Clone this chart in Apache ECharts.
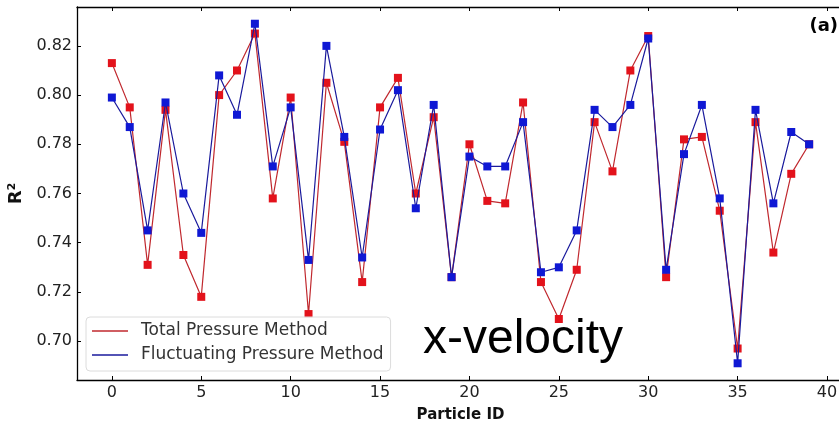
<!DOCTYPE html>
<html>
<head>
<meta charset="utf-8">
<script src="https://cdn.jsdelivr.net/npm/echarts@6/dist/echarts.min.js"></script>
<style>html,body{margin:0;padding:0;background:#fff;}#c{width:839px;height:425px;}</style>
</head>
<body>
<div id="c"></div>
<script>
var particleIds = [0,1,2,3,4,5,6,7,8,9,10,11,12,13,14,15,16,17,18,19,20,21,22,23,24,25,26,27,28,29,30,31,32,33,34,35,36,37,38,39];
var totalPressure = [0.813,0.795,0.731,0.794,0.735,0.718,0.800,0.810,0.825,0.758,
                     0.799,0.711,0.805,0.781,0.724,0.795,0.807,0.760,0.791,0.726,
                     0.780,0.757,0.756,0.797,0.724,0.709,0.729,0.789,0.769,0.810,
                     0.824,0.726,0.782,0.783,0.753,0.697,0.789,0.736,0.768,0.780];
var fluctPressure = [0.799,0.787,0.745,0.797,0.760,0.744,0.808,0.792,0.829,0.771,
                     0.795,0.733,0.820,0.783,0.734,0.786,0.802,0.754,0.796,0.726,
                     0.775,0.771,0.771,0.789,0.728,0.730,0.745,0.794,0.787,0.796,
                     0.823,0.729,0.776,0.796,0.758,0.691,0.794,0.756,0.785,0.780];
var xTicks = [0,5,10,15,20,25,30,35,40];
var yTicks = [0.70,0.72,0.74,0.76,0.78,0.80,0.82];
var seriesNames = ['Total Pressure Method','Fluctuating Pressure Method'];

function pairs(vals){ return particleIds.map(function(id,i){ return [id, vals[i]]; }); }

var chart = echarts.init(document.getElementById('c'), null, {renderer:'canvas'});
var axisLineStyle = {color:'#000', width:1.3};
var labelFont = {fontFamily:'DejaVu Sans', fontSize:16, color:'#222'};
chart.setOption({
  animation:false,
  backgroundColor:'#fff',
  grid:{left:77, top:7, right:-5, bottom:45, outerBoundsMode:'none', containLabel:false},
  xAxis:[{
    type:'value', min:-1.95, max:40.95, position:'bottom',
    name:'Particle ID', nameLocation:'middle', nameGap:28,
    nameTextStyle:{fontFamily:'DejaVu Sans', fontWeight:'bold', fontSize:15, color:'#111'},
    axisLine:{show:true, onZero:false, lineStyle:axisLineStyle},
    axisTick:{show:true, inside:true, length:4, customValues:xTicks, lineStyle:{color:'#000'}},
    axisLabel:Object.assign({customValues:xTicks, margin:5}, labelFont),
    splitLine:{show:false}
  },{
    type:'value', min:-1.95, max:40.95, position:'top',
    axisLine:{show:true, onZero:false, lineStyle:axisLineStyle},
    axisTick:{show:true, inside:true, length:4, customValues:xTicks, lineStyle:{color:'#000'}},
    axisLabel:{show:false},
    splitLine:{show:false}
  }],
  yAxis:[{
    type:'value', min:0.6842, max:0.8358, position:'left',
    name:'R²', nameLocation:'middle', nameGap:50, nameRotate:90,
    nameTextStyle:{fontFamily:'DejaVu Sans', fontWeight:'bold', fontSize:18, color:'#111'},
    axisLine:{show:true, onZero:false, lineStyle:axisLineStyle},
    axisTick:{show:true, inside:true, length:4, customValues:yTicks, lineStyle:{color:'#000'}},
    axisLabel:Object.assign({customValues:yTicks, margin:5, formatter:function(v){return v.toFixed(2);}}, labelFont),
    splitLine:{show:false}
  }],
  legend:{
    orient:'vertical', left:86, top:317,
    data:[{name:seriesNames[0], itemStyle:{color:'#c0282e'}},{name:seriesNames[1], itemStyle:{color:'#1a1a9c'}}],
    icon:'rect', itemWidth:36, itemHeight:1.6, itemGap:4,
    padding:[4,7,6,6],
    backgroundColor:'rgba(255,255,255,0.9)', borderColor:'#dcdcdc', borderWidth:1, borderRadius:4,
    textStyle:{fontFamily:'DejaVu Sans', fontSize:17, color:'#333', lineHeight:20, padding:[0,0,0,8]}
  },
  series:[{
    name:seriesNames[0], type:'line', data:pairs(totalPressure),
    symbol:'rect', symbolSize:8, showAllSymbol:true,
    lineStyle:{color:'#c0282e', width:1.2},
    itemStyle:{color:'#e3121b'}, z:2
  },{
    name:seriesNames[1], type:'line', data:pairs(fluctPressure),
    symbol:'rect', symbolSize:8, showAllSymbol:true,
    lineStyle:{color:'#1a1a9c', width:1.2},
    itemStyle:{color:'#0f18d4'}, z:3
  }],
  graphic:[{
    type:'text', left:423, top:316, z:10,
    style:{text:'x-velocity', font:'48px "Liberation Sans", Arial, sans-serif', fill:'#000'}
  },{
    type:'text', right:1, top:17, z:10,
    style:{text:'(a)', font:'bold 18px "DejaVu Sans", sans-serif', fill:'#000'}
  }]
});
</script>
</body>
</html>
